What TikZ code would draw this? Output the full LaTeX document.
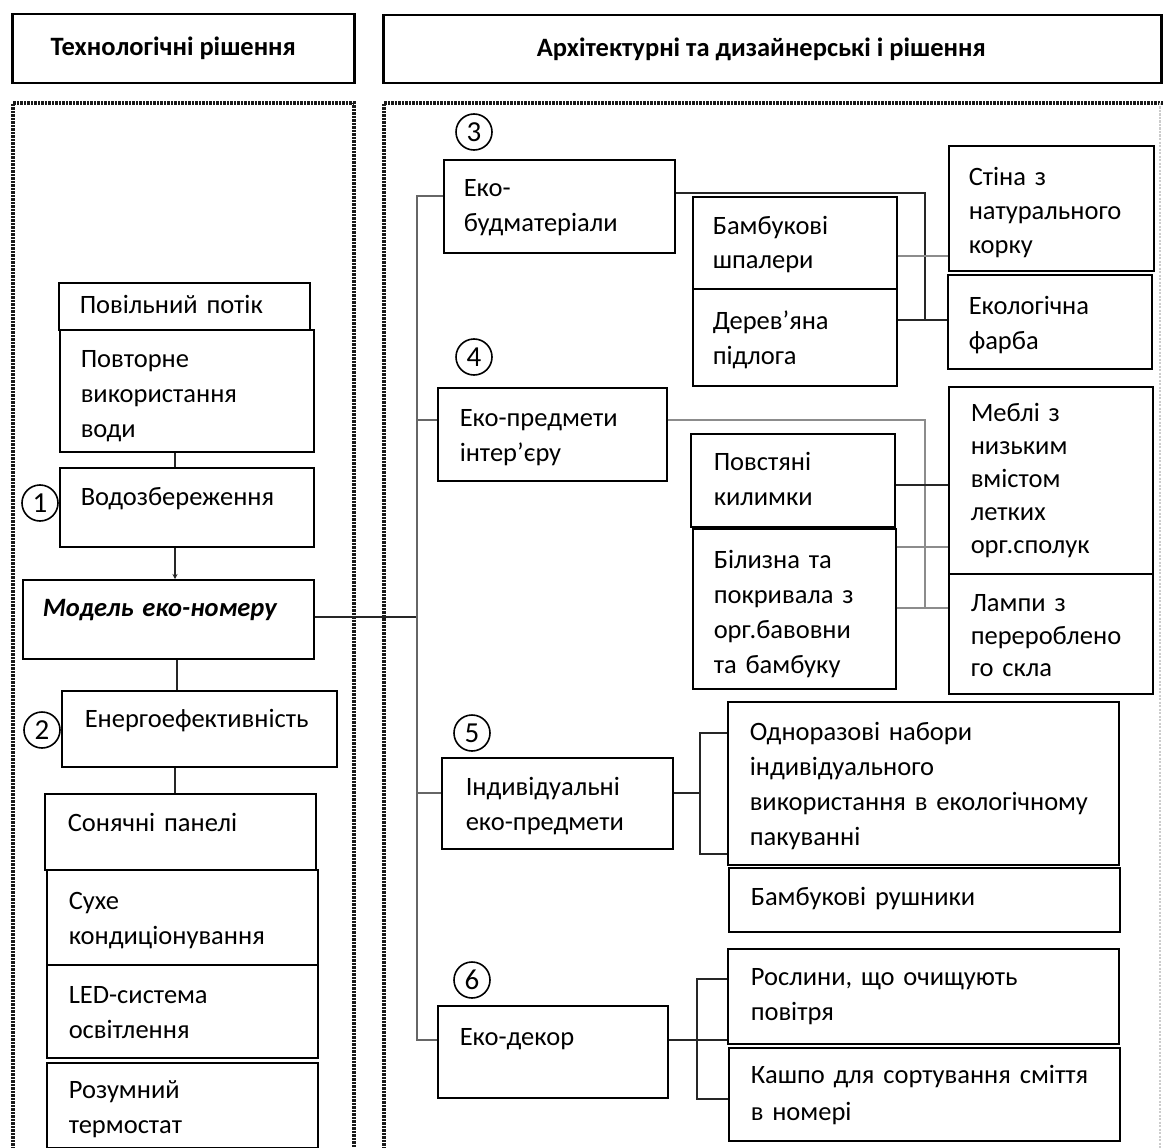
\documentclass[tikz,border=0pt]{standalone}
\usepackage{fontspec}
\setmainfont{Carlito}
\usetikzlibrary{arrows.meta}
\tikzset{
 ebx/.style={draw=black, line width=1.5pt, fill=white, anchor=north west, align=left, inner ysep=0pt},
 hdr/.style={draw=black, line width=2.5pt, anchor=north west, inner sep=0pt, font=\fontsize{26.5}{30}\selectfont\bfseries},
 conn/.style={draw=black!85, line width=2pt},
 lconn/.style={draw=black!45, line width=2pt},
 spinel/.style={draw=black!60, line width=2.5pt},
 dotb/.style={draw=black!90, line width=3.5pt, dash pattern=on 2.2pt off 1.3pt},
 numc/.style={circle, draw=black, line width=1.6pt, minimum size=36pt, inner sep=0pt, fill=white, font=\fontsize{29}{29}\selectfont},
}
\newcommand\ebox[9]{%
 \pgfmathsetmacro\ebW{#4-#2}%
 \pgfmathsetmacro\ebP{#6-#2}%
 \pgfmathsetmacro\ebT{#4-#2-2*(#6-#2)}%
 \pgfmathsetmacro\ebH{#7-#3}%
 \pgfmathsetmacro\ebD{#5-#7}%
 \node[ebx, minimum width=\ebW pt, inner xsep=\ebP pt, text width=\ebT pt, text height=\ebH pt, text depth=\ebD pt, font=\fontsize{26.5}{#8}\selectfont] (#1) at (#2,#3) {#9};}
\begin{document}
\begin{tikzpicture}[x=1pt,y=-1pt]
\useasboundingbox (0,0) rectangle (1163,1148);
\clip (0,0) rectangle (1163,1148);
\fill[white] (0,0) rectangle (1163,1148);
% headers
\node[hdr, minimum width=342pt, minimum height=69pt] (hl) at (11,13) {Технологічні рішення\hspace*{20pt}};
\node[hdr, minimum width=778pt, minimum height=68pt] (hr) at (382,14) {Архітектурні та дизайнерські і рішення\hspace*{22pt}};
% dotted frames
\draw[dotb] (13,1170) -- (13,103) -- (354,103) -- (354,1170);
\draw[dotb] (384,1170) -- (384,103) -- (1175,103);
\draw[dotb, draw=black!20, line width=1.5pt] (1160,103) -- (1160,1170);
% number circles
\node[numc] (n1) at (40,503) {1};
\node[numc] (n2) at (42,730) {2};
\node[numc] (n3) at (474,132) {3};
\node[numc] (n4) at (474,357) {4};
\node[numc] (n5) at (472,733) {5};
\node[numc] (n6) at (472,980) {6};
% left column
\ebox{povil}{58}{282}{309}{329}{79}{313}{35}{Повільний~потік}
\ebox{povt}{59}{329}{313}{451}{80}{367}{35}{Повторне\\використання\\води}
\ebox{vodo}{59}{467}{313}{546}{80}{505}{35}{Водозбереження}
\ebox{model}{22}{579}{313}{658}{42}{616}{35}{\bfseries\itshape Модель~еко-номеру}
\ebox{energ}{61}{690}{336}{766}{84}{727}{35}{Енергоефективність}
\ebox{sonya}{44}{793}{315}{869}{67}{831}{35}{Сонячні~панелі}
\ebox{suhe}{46}{869}{317}{964}{68}{909}{35}{Сухе\\кондиціонування}
\ebox{led}{46}{964}{317}{1057}{68}{1003}{35}{LED-система\\освітлення}
\ebox{rozum}{46}{1062}{317}{1147}{68}{1098}{35}{Розумний\\термостат}
% right side
\ebox{budm}{443}{159}{674}{252}{463}{196}{35}{Еко-\\будматеріали}
\ebox{bamb}{692}{196}{896}{288}{712}{234}{34}{Бамбукові\\шпалери}
\ebox{dere}{692}{288}{896}{385}{712}{329}{35}{Дерев’яна\\підлога}
\ebox{stina}{948}{145}{1153}{270}{968}{185}{34}{Стіна~з\\натурального\\корку}
\ebox{farba}{947}{274}{1151}{368}{968}{314}{35}{Екологічна\\фарба}
\ebox{pred}{437}{387}{666}{480}{459}{426}{35}{Еко-предмети\\інтер’єру}
\ebox{povst}{690}{433}{894}{526}{713}{470}{35}{Повстяні\\килимки}
\ebox{bil}{692}{528}{895}{688}{713}{568}{35}{Білизна~та\\покривала~з\\орг.бавовни\\та~бамбуку}
\ebox{mebli}{948}{386}{1152}{573}{970}{421}{33}{Меблі~з\\низьким\\вмістом\\летких\\орг.сполук}
\ebox{lampy}{948}{573}{1152}{693}{970}{611}{32.5}{Лампи~з\\перероблено\\го~скла}
\ebox{ind}{441}{757}{672}{848}{465}{795}{35}{Індивідуальні\\еко-предмети}
\ebox{odno}{727}{701}{1118}{864}{749}{740}{35}{Одноразові~набори\\індивідуального\\використання~в~екологічному\\пакуванні}
\ebox{rush}{728}{867}{1119}{931}{750}{905}{35}{Бамбукові~рушники}
\ebox{decor}{437}{1005}{667}{1097}{459}{1045}{35}{Еко-декор}
\ebox{rosl}{727}{948}{1118}{1043}{750}{985}{35}{Рослини,~що~очищують\\повітря}
\ebox{kash}{728}{1047}{1119}{1140}{750}{1083}{37}{Кашпо~для~сортування~сміття\\в~номері}
% coordinates for connectors
\coordinate (lx) at (175,0);
\coordinate (lx2) at (177,0);
\coordinate (sTop) at (417,196);
\coordinate (sPred) at (417,420);
\coordinate (sMod) at (417,617);
\coordinate (sInd) at (417,793);
\coordinate (sBot) at (417,1040);
\coordinate (b1) at (925,193);
\coordinate (b3) at (925,256);
\coordinate (b2) at (925,320);
\coordinate (p1) at (925,420);
\coordinate (p2) at (925,485);
\coordinate (p3) at (925,547);
\coordinate (p4) at (925,608);
\coordinate (i0) at (700,793);
\coordinate (i1) at (700,733);
\coordinate (i2) at (700,854);
\coordinate (d0) at (697,1040);
\coordinate (d1) at (697,979);
\coordinate (d2) at (697,1099);
% left connectors
\draw[conn] (povt.south -| lx) -- (vodo.north -| lx);
\draw[conn, -{Stealth[length=5pt,width=5pt]}] (vodo.south -| lx) -- (model.north -| lx);
\draw[conn] (model.south -| lx2) -- (energ.north -| lx2);
\draw[conn] (energ.south -| lx) -- (sonya.north -| lx);
\draw[conn] (model.east |- sMod) -- (sMod);
% spine
\draw[spinel] (budm.west |- sTop) -- (sTop) -- (sBot) -- (decor.west |- sBot);
\draw[spinel] (sPred) -- (pred.west |- sPred);
\draw[spinel] (sInd) -- (ind.west |- sInd);
% group 3
\draw[conn] (budm.east |- b1) -- (b1) -- (b2);
\draw[conn] (dere.east |- b2) -- (farba.west |- b2);
\draw[lconn] (bamb.east |- b3) -- (stina.west |- b3);
% group 4
\draw[lconn] (pred.east |- p1) -- (p1) -- (p4);
\draw[conn] (povst.east |- p2) -- (mebli.west |- p2);
\draw[lconn] (bil.east |- p3) -- (mebli.west |- p3);
\draw[lconn] (bil.east |- p4) -- (lampy.west |- p4);
% group 5
\draw[conn] (ind.east |- i0) -- (i0);
\draw[conn] (odno.west |- i1) -- (i1) -- (i2) -- (odno.west |- i2);
% group 6
\draw[conn] (decor.east |- d0) -- (rosl.west |- d0);
\draw[conn] (rosl.west |- d1) -- (d1) -- (d2) -- (kash.west |- d2);
\end{tikzpicture}
\end{document}
